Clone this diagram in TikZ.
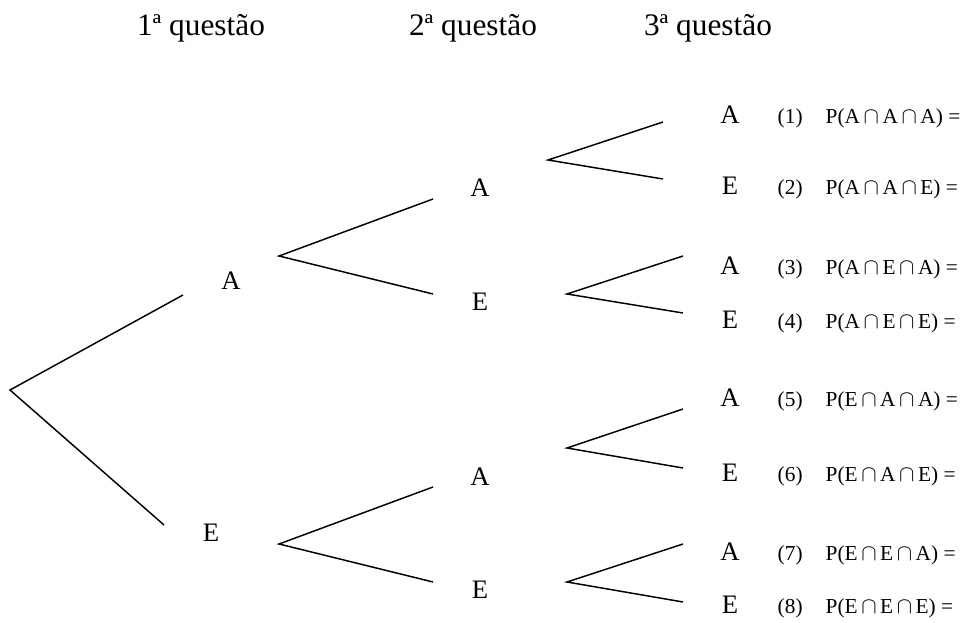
\documentclass[tikz,border=0pt]{standalone}
\usepackage{fontspec}
\setmainfont{Liberation Serif}
\usetikzlibrary{calc}

\begin{document}
\begin{tikzpicture}[x=0.75pt,y=-0.75pt,line width=1.1pt,
    head/.style={anchor=base,font=\fontsize{23.5}{27}\selectfont},
    lbl/.style={anchor=base,font=\fontsize{20}{24}\selectfont},
    prob/.style={anchor=base west,inner sep=0pt,font=\fontsize{16}{19}\selectfont}]
  \useasboundingbox (0,0) rectangle (972,623);
  \node[head] (q1) at (201,36) {1ª questão};
  \node[head] (q2) at (473,36) {2ª questão};
  \node[head] (q3) at (708,36) {3ª questão};
  % first question
  \coordinate (O) at (10,390);
  \coordinate (OA) at (183,295);
  \coordinate (OE) at (164,525);
  \draw (OA)--(O)--(OE);
  \node[lbl] (A) at (231,290) {A};
  \node[lbl] (E) at (211,542) {E};
  % second question
  \coordinate (A0) at (279,256);
  \coordinate (A1) at (433,199);
  \coordinate (A2) at (433,294);
  \coordinate (E0) at (279,544);
  \coordinate (E1) at (433,487);
  \coordinate (E2) at (433,582);
  \draw (A1)--(A0)--(A2);
  \draw (E1)--(E0)--(E2);
  \node[lbl] (AA) at (480,197) {A};
  \node[lbl] (AE) at (480,311) {E};
  \node[lbl] (EA) at (480,486) {A};
  \node[lbl] (EE) at (480,599) {E};
  % third question
  \coordinate (AA0) at (548,160);
  \coordinate (AA1) at (663,122);
  \coordinate (AA2) at (663,179);
  \coordinate (AE0) at (567,294);
  \coordinate (AE1) at (683,256);
  \coordinate (AE2) at (683,313);
  \coordinate (EA0) at (567,448);
  \coordinate (EA1) at (683,409);
  \coordinate (EA2) at (683,468);
  \coordinate (EE0) at (567,582);
  \coordinate (EE1) at (683,544);
  \coordinate (EE2) at (683,602);
  \foreach \f in {AA,AE,EA,EE}
    \draw (\f1)--(\f0)--(\f2);
  \foreach \n/\a/\b/\c in {1/A/A/A,2/A/A/E,3/A/E/A,4/A/E/E,
      5/E/A/A,6/E/A/E,7/E/E/A,8/E/E/E}{
    \pgfmathsetmacro\y{{124,195,275,329,407,482,561,614}[\n-1]}
    \node[lbl] (L\n) at (730,\y) {\c};
    \node[prob] (n\n) at (777,\y) {(\n)};
    \node[prob] (P\n) at (825,\y) {P(\a\,$\cap$\,\b\,$\cap$\,\c) =};
  }
\end{tikzpicture}
\end{document}
